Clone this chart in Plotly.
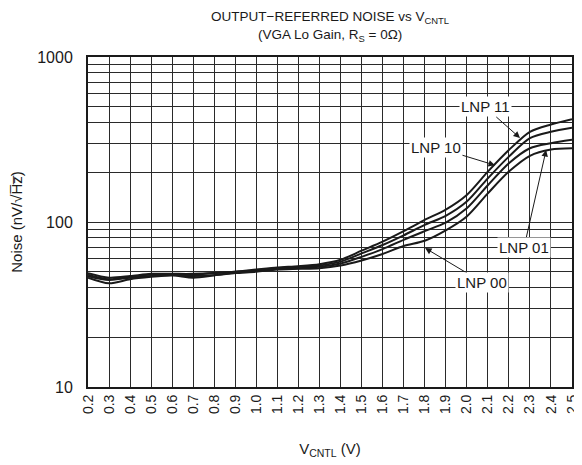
import math
import plotly.graph_objects as go

v_cntl = [0.2, 0.3, 0.4, 0.5, 0.6, 0.7, 0.8, 0.9, 1.0, 1.1, 1.2, 1.3,
          1.4, 1.5, 1.6, 1.7, 1.8, 1.9, 2.0, 2.1, 2.2, 2.3, 2.4, 2.5]

lnp_11 = [49, 46, 47, 48.5, 48.5, 48.5, 49, 50, 51.5, 53, 54, 55.5,
          59, 67, 76, 88, 103, 119, 146, 202, 273, 352, 390, 420]
lnp_10 = [48, 45, 46.5, 48, 48, 48, 49, 50, 51, 52.5, 53.5, 54.5,
          57.5, 64.5, 72.5, 83, 96, 109, 133, 184, 249, 322, 352, 372]
lnp_01 = [47, 44.5, 46, 47, 47.5, 46, 47.5, 49.5, 50.5, 52, 52.5, 53.5,
          56, 61.5, 68.5, 78, 88, 99, 121, 167, 227, 280, 300, 315]
lnp_00 = [46, 42.5, 45, 46.5, 47.5, 47, 47.5, 49, 50, 51.5, 52, 52.5,
          54.5, 58.5, 64, 71.5, 77, 89, 108, 149, 202, 252, 275, 280]

series = [("LNP 11", lnp_11), ("LNP 10", lnp_10), ("LNP 01", lnp_01), ("LNP 00", lnp_00)]

x_ticks = [f"{v:.1f}" for v in v_cntl]
y_grid = [10, 20, 30, 40, 50, 60, 70, 80, 90,
          100, 200, 300, 400, 500, 600, 700, 800, 900, 1000]
y_text = ["10" if v == 10 else "100" if v == 100 else "1000" if v == 1000 else "" for v in y_grid]

# label: (arrow tip x, tip noise value, text offset px x, offset px y)
labels = [("LNP 11", 2.253, 323, -35, -31),
          ("LNP 10", 2.134, 221, -59, -18),
          ("LNP 01", 2.377, 273, -22, 97),
          ("LNP 00", 1.802, 69.5, 57, 34)]

FONT = "Liberation Sans, Arial, sans-serif"

fig = go.Figure()
for name, vals in series:
    fig.add_trace(go.Scatter(x=v_cntl, y=vals, mode="lines", name=name,
                             line=dict(color="#1a1a1a", width=2, shape="spline", smoothing=0.8),
                             showlegend=False))

for text, tx, ty, ax, ay in labels:
    fig.add_annotation(x=tx, y=math.log10(ty), xref="x", yref="y", text=text,
                       showarrow=True, ax=ax, ay=ay, arrowhead=2, arrowsize=1.3,
                       arrowwidth=1, arrowcolor="#1a1a1a", bgcolor="white",
                       font=dict(family=FONT, size=15, color="#1a1a1a"), borderpad=1)

# title lines
fig.add_annotation(text="OUTPUT\u2212REFERRED NOISE vs V<sub>CNTL</sub>", xref="paper", yref="paper",
                   x=0.5, y=1.121, xanchor="center", yanchor="middle", showarrow=False,
                   font=dict(family=FONT, size=13.5, color="#1a1a1a"))
fig.add_annotation(text="(VGA Lo Gain, R<sub>S</sub> = 0\u03a9)", xref="paper", yref="paper",
                   x=0.5, y=1.064, xanchor="center", yanchor="middle", showarrow=False,
                   font=dict(family=FONT, size=13.5, color="#1a1a1a"))

fig.update_layout(
    width=574, height=457,
    margin=dict(l=80, r=10, t=49, b=78, autoexpand=False),
    paper_bgcolor="white", plot_bgcolor="white",
    font=dict(family=FONT, color="#1a1a1a"),
)
fig.update_xaxes(range=[0.2, 2.5], tickvals=v_cntl, ticktext=x_ticks, tickangle=-90,
                 tickfont=dict(size=14, family=FONT), showgrid=True, gridcolor="#2a2a2a",
                 gridwidth=1, showline=True, linecolor="#1a1a1a", linewidth=2, mirror=True,
                 ticks="", zeroline=False, automargin=False,
                 title=dict(text="V<sub>CNTL</sub> (V)", font=dict(size=15, family=FONT), standoff=30))
fig.update_yaxes(type="log", range=[1, 3], tickvals=y_grid, ticktext=y_text,
                 tickfont=dict(size=16, family=FONT), showgrid=True, gridcolor="#2a2a2a",
                 gridwidth=1, showline=True, linecolor="#1a1a1a", linewidth=2, mirror=True,
                 ticks="", zeroline=False, automargin=False, ticklabelstandoff=10,
                 title=dict(text="Noise (nV/\u221aH\u0305z\u0305)", font=dict(size=15, family=FONT), standoff=14))

fig.write_html("out.html")
